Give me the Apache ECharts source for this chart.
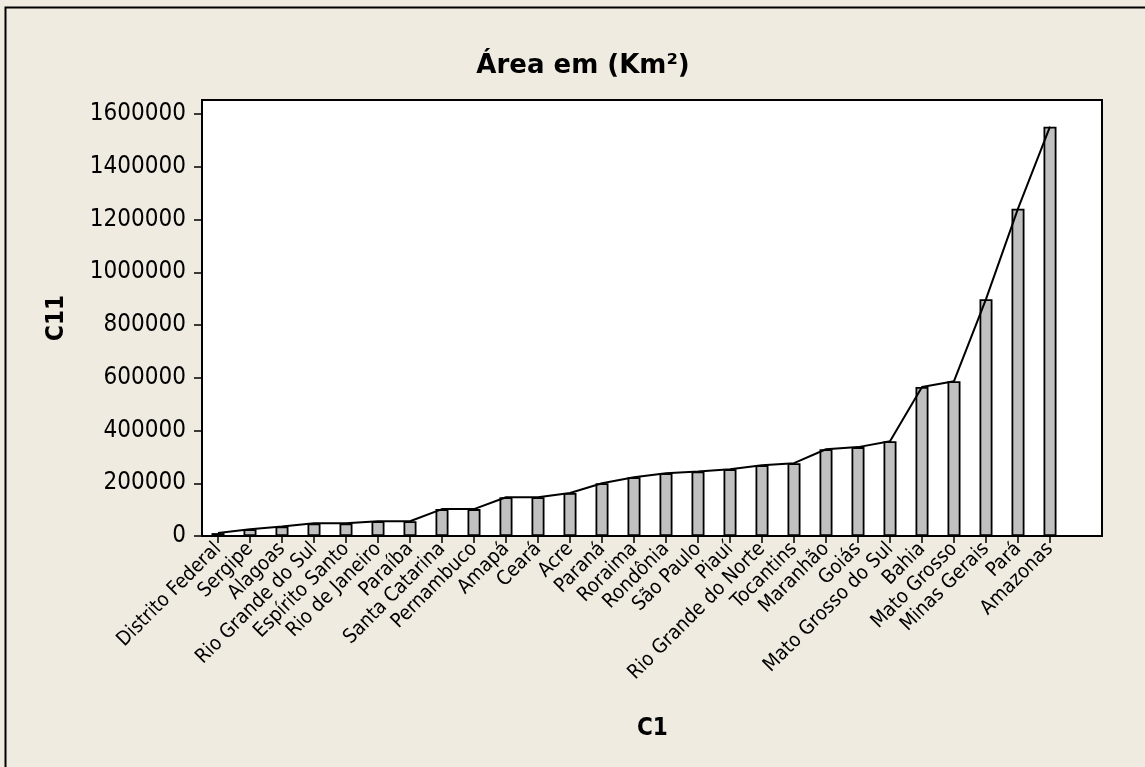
<!DOCTYPE html>
<html>
<head>
<meta charset="utf-8">
<script src="https://cdn.jsdelivr.net/npm/echarts@6/dist/echarts.min.js"></script>
<style>
html,body{margin:0;padding:0;background:#efebe1;}
#chart{width:1145px;height:767px;}
</style>
</head>
<body>
<div id="chart"></div>
<script>
const categories = ["Distrito Federal","Sergipe","Alagoas","Rio Grande do Sul","Espírito Santo","Rio de Janeiro","Paraíba","Santa Catarina","Pernambuco","Amapá","Ceará","Acre","Paraná","Roraima","Rondônia","São Paulo","Piauí","Rio Grande do Norte","Tocantins","Maranhão","Goiás","Mato Grosso do Sul","Bahia","Mato Grosso","Minas Gerais","Pará","Amazonas"];
const areaValues = [11000,26000,36000,48000,48000,56000,56000,102000,102000,147000,147000,163000,200000,223000,238000,245000,253000,268000,276000,329000,337000,359000,565000,587000,898000,1241000,1552000];
const yMin = 0;
const yMax = 1600000;
const yInterval = 200000;

const chart = echarts.init(document.getElementById('chart'));
const fam = '"DejaVu Sans Condensed","DejaVu Sans",sans-serif';
chart.setOption({
  backgroundColor: '#efebe1',
  animation: false,
  title: {
    text: 'Área em (Km²)',
    left: 578, top: 48, textAlign: 'center',
    textStyle: {fontFamily: '"DejaVu Sans",sans-serif', fontWeight: 'bold', fontSize: 26, color: '#000'}
  },
  graphic: [{
    type: 'rect', silent: true, z: -10,
    shape: {x: 5.5, y: 7.5, width: 1300, height: 900},
    style: {fill: 'none', stroke: '#000', lineWidth: 2}
  }, {
    type: 'text', left: 637, top: 717, silent: true,
    style: {text: 'C1', fontFamily: fam, fontWeight: 'bold', fontSize: 24, fill: '#000'}
  }],
  grid: [
    {left: 202, top: 100, right: 43, bottom: 231, show: true, backgroundColor: '#fff', borderColor: '#000', borderWidth: 2, z: 0},
    {left: 202, top: 114, width: 864, bottom: 231, z: 1}
  ],
  xAxis: [
    {gridIndex: 0, type: 'value', show: false},
    {gridIndex: 1, type: 'category', data: categories,
     axisLine: {show: false},
     axisTick: {show: true, alignWithLabel: true, length: 7, lineStyle: {color: '#000', width: 1.5}},
     axisLabel: {rotate: 45, interval: 0, margin: 10, color: '#000', fontFamily: fam, fontSize: 20}
    }
  ],
  yAxis: [
    {gridIndex: 0, type: 'value', show: false},
    {gridIndex: 1, type: 'value', min: yMin, max: yMax, interval: yInterval,
     name: 'C11', nameLocation: 'middle', nameGap: 133, nameRotate: 90,
     nameTextStyle: {fontFamily: fam, fontWeight: 'bold', fontSize: 24, color: '#000', padding: [0,0,0,14]},
     axisLine: {show: false},
     splitLine: {show: false},
     axisTick: {show: true, length: 8, lineStyle: {color: '#000', width: 1.5}},
     axisLabel: {margin: 16, color: '#000', fontFamily: fam, fontSize: 24, formatter: function (v) { return String(v); }}
    }
  ],
  series: [
    {type: 'bar', xAxisIndex: 1, yAxisIndex: 1, data: areaValues, barWidth: 13,
     itemStyle: {color: '#c0c0c0', borderColor: '#000', borderWidth: 1.8}, z: 2},
    {type: 'line', xAxisIndex: 1, yAxisIndex: 1, data: areaValues, symbol: 'none',
     lineStyle: {color: '#000', width: 2}, z: 3}
  ]
});
</script>
</body>
</html>
